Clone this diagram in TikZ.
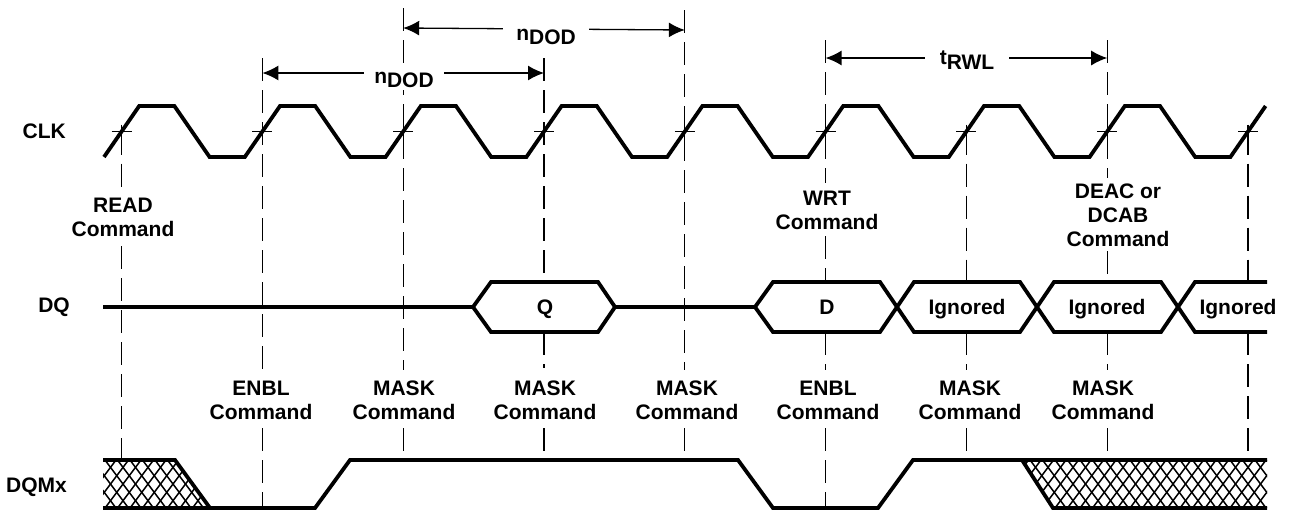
\documentclass[tikz,border=0pt]{standalone}
\usepackage{fontspec}
\setmainfont{Liberation Sans}
\usetikzlibrary{arrows.meta}

\begin{document}
\begin{tikzpicture}[x=1pt, y=-1pt, font=\fontsize{21}{24}\selectfont\bfseries,
    sig/.style={line width=3.8pt},
    guide/.style={line width=1.3pt, dash pattern=on 23pt off 9pt},
    dim/.style={line width=1.3pt, {Latex[length=16pt,width=15pt]}-{Latex[length=16pt,width=15pt]}},
    lbl/.style={align=center, inner sep=3pt},
    hatch/.style={line width=1.5pt}]
        \useasboundingbox (0,0) rectangle (1289,515);

        \coordinate (gt1) at (262.4,58);
        \coordinate (gt2) at (403.2,8);
        \coordinate (gt3) at (544.0,58);
        \coordinate (gt4) at (684.8,10);
        \coordinate (gt5) at (825.6,40);
        \coordinate (gt7) at (1107.2,40);
        \foreach \x/\ya/\yb in {121.6/131.5/190, 121.6/246/460,
            262.4/58/370, 262.4/428/508,
            403.2/8/370, 403.2/428/460,
            544.0/58/282, 544.0/332/368, 544.0/428/460,
            684.8/10/370, 684.8/428/460,
            825.6/40/183, 825.6/236/282, 825.6/332/370, 825.6/428/508,
            966.4/131.5/282, 966.4/332/370, 966.4/428/460,
            1107.2/40/178, 1107.2/251/282, 1107.2/332/370, 1107.2/428/460,
            1248.0/131.5/282, 1248.0/332/460}
            \draw[guide] (\x,\ya) -- (\x,\yb);
        \foreach \k in {0,...,8} {
            \coordinate (c\k) at ({121.6+140.8*\k},131.5);
            \draw[line width=1.3pt] ([xshift=-10pt]c\k) -- ([xshift=10pt]c\k)
            ([yshift=7pt]c\k) -- ([yshift=-8pt]c\k);
        }

        \draw[sig] (104,157) \foreach \k in {0,...,7} {
            -- ++(35.2,-51) -- ++(35.2,0) -- ++(35.2,51) -- ++(35.2,0) } -- ++(35.2,-51);

        \draw[sig] (103,307) -- (473,307) -- (491,282) -- (598,282) -- (615,307)
        -- (755,307) -- (773,282) -- (880,282) -- (914,332) -- (1020,332)
        -- (1054,282) -- (1161,282) -- (1195,332) -- (1267,332);
        \draw[sig] (473,307) -- (491,332) -- (598,332) -- (615,307);
        \draw[sig] (755,307) -- (773,332) -- (880,332) -- (914,282) -- (1020,282)
        -- (1054,332) -- (1161,332) -- (1195,282) -- (1267,282);

        \begin{scope}
            \clip (103,460) -- (175,460) -- (210,508) -- (103,508) -- cycle;
            \foreach \x in {55,67.5,...,215} {
                \draw[hatch] (\x,460) -- ++(36,48);
                \draw[hatch] (\x,508) -- ++(36,-48);
            }
        \end{scope}
        \begin{scope}
            \clip (1022,460) -- (1267,460) -- (1267,508) -- (1053,508) -- cycle;
            \foreach \x in {980,992.5,...,1270} {
                \draw[hatch] (\x,460) -- ++(36,48);
                \draw[hatch] (\x,508) -- ++(36,-48);
            }
        \end{scope}
        \draw[sig] (103,460) -- (175,460) -- (210,508);
        \draw[sig] (103,508) -- (315,508) -- (350,460) -- (738,460) -- (773,508)
        -- (878,508) -- (913,460) -- (1267,460);
        \draw[sig] (1022,460) -- (1053,508) -- (1267,508);

        \draw[dim] ([yshift=-15pt]gt1) -- ([yshift=-15pt]gt3);
        \draw[dim] ([yshift=-20pt]gt2) -- ([yshift=-20pt]gt4);
        \draw[dim] ([yshift=-18pt]gt5) -- ([yshift=-18pt]gt7);
        \node[lbl, fill=white, anchor=base, inner xsep=10pt] (ndod1) at (404,83)
        {n\raisebox{-4pt}{DOD}};
        \node[lbl, fill=white, anchor=base, inner xsep=13pt] (ndod2) at (546,40)
        {n\raisebox{-4pt}{DOD}};
        \node[lbl, fill=white, anchor=base, inner xsep=15pt] (trwl) at (967,64)
        {t\raisebox{-5pt}{RWL}};

        \node[anchor=east, inner sep=0pt] (clk) at (66,131.5) {CLK};
        \node[anchor=east, inner sep=0pt] (dq) at (70,307) {DQ};
        \node[anchor=east, inner sep=0pt] (dqm) at (67,487) {DQMx};

        \node[lbl] (read) at (123,217) {READ\\Command};
        \node[lbl] (wrt) at (827,210) {WRT\\Command};
        \node[lbl] (deac) at (1118,215) {DEAC or\\DCAB\\Command};

        \node[anchor=base] (qval) at (545,314) {Q};
        \node[anchor=base] (dval) at (827,314) {D};
        \node[anchor=base] (ign1) at (967,314) {Ignored};
        \node[anchor=base] (ign2) at (1107,314) {Ignored};
        \node[anchor=base] (ign3) at (1238,314) {Ignored};

        \node[lbl] (enbl1) at (261,400) {ENBL\\Command};
        \node[lbl] (mask1) at (404,400) {MASK\\Command};
        \node[lbl] (mask2) at (545,400) {MASK\\Command};
        \node[lbl] (mask3) at (687,400) {MASK\\Command};
        \node[lbl] (enbl2) at (828,400) {ENBL\\Command};
        \node[lbl] (mask4) at (970,400) {MASK\\Command};
        \node[lbl] (mask5) at (1103,400) {MASK\\Command};
    \end{tikzpicture}
\end{document}
